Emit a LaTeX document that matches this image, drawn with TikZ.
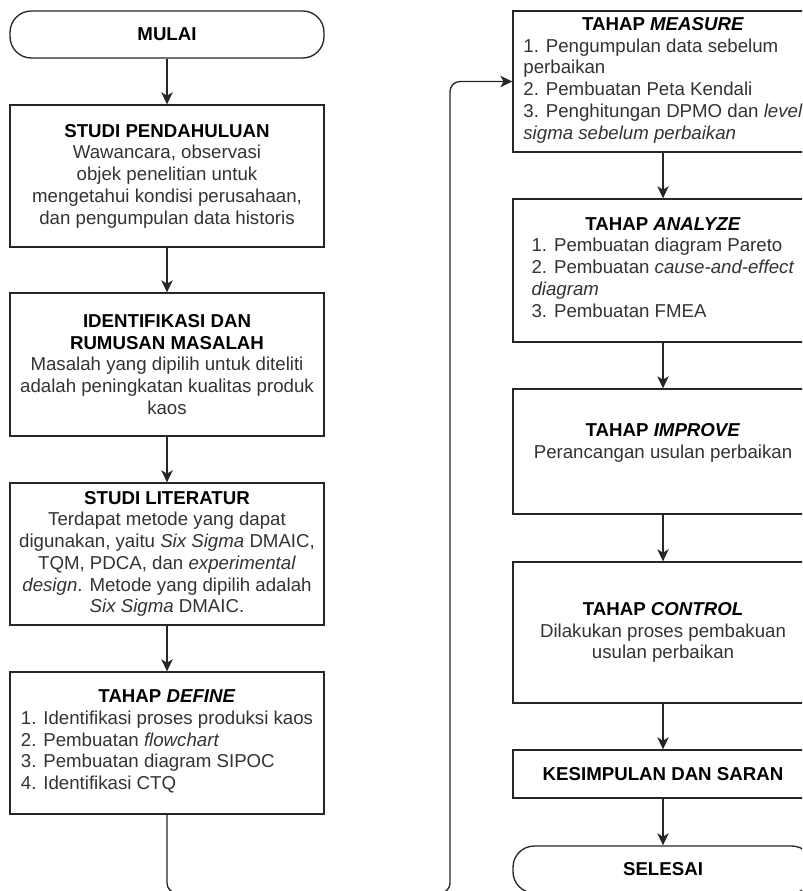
\documentclass[tikz,border=0pt]{standalone}
\usepackage{fontspec}
\setmainfont{Liberation Sans}
\usetikzlibrary{arrows.meta}
\tikzset{
	flowbox/.style={draw=black!85, line width=1pt, fill=white, align=center, inner sep=0pt,
		text=black!80, font=\fontsize{14}{16.3}\selectfont}
}
\tikzset{
	termbox/.style={flowbox, rounded corners=16pt},
	leftbox/.style={flowbox, minimum width=235.5pt},
	rightbox/.style={flowbox, minimum width=225pt},
	flowarrow/.style={draw=black!85, line width=1pt, -{Stealth[length=9pt,width=8.5pt,inset=2.5pt]}}
}
\newcommand{\ttl}[1]{{\color{black}\bfseries #1}}

\begin{document}
\begin{tikzpicture}[x=0.75pt, y=-0.75pt]
      \useasboundingbox (0,0) rectangle (802,891);
      \clip (0,0) rectangle (802,891);
      % left column
      \node[termbox, leftbox, minimum height=35.25pt] (mulai) at (167,34.5) {\ttl{MULAI}};
      \node[leftbox, minimum height=106.5pt] (studi) at (167,176)
        {\ttl{STUDI PENDAHULUAN}\\Wawancara, observasi\\objek penelitian untuk\\mengetahui kondisi perusahaan,\\dan pengumpulan data historis};
      \node[leftbox, minimum height=107.25pt] (rumusan) at (167,364.5)
        {\ttl{IDENTIFIKASI DAN}\\\ttl{RUMUSAN MASALAH}\\Masalah yang dipilih untuk diteliti\\adalah peningkatan kualitas produk\\kaos};
      \node[leftbox, minimum height=106.5pt] (literatur) at (167,554)
        {\ttl{STUDI LITERATUR}\\Terdapat metode yang dapat\\digunakan, yaitu \textit{Six Sigma} DMAIC,\\TQM, PDCA, dan \textit{experimental}\\\textit{design}. Metode yang dipilih adalah\\\textit{Six Sigma} DMAIC.};
      \node[leftbox, minimum height=106.5pt] (define) at (167,743)
        {\ttl{TAHAP \textit{DEFINE}}\\
         \begin{tabular}[t]{@{}l@{}}1. Identifikasi proses produksi kaos\\2. Pembuatan \textit{flowchart}\\3. Pembuatan diagram SIPOC\\4. Identifikasi CTQ\end{tabular}};
      % right column
      \node[rightbox, minimum height=105.75pt] (measure) at (663,81.5)
        {\ttl{TAHAP \textit{MEASURE}}\\
         \begin{tabular}[t]{@{}l@{}}1. Pengumpulan data sebelum\\perbaikan\\2. Pembuatan Peta Kendali\\3. Penghitungan DPMO dan \textit{level}\\\textit{sigma sebelum perbaikan}\end{tabular}};
      \node[rightbox, minimum height=107.25pt] (analyze) at (663,270.5)
        {\ttl{TAHAP \textit{ANALYZE}}\\
         \begin{tabular}[t]{@{}l@{}}1. Pembuatan diagram Pareto\\2. Pembuatan \textit{cause-and-effect}\\\textit{diagram}\\3. Pembuatan FMEA\end{tabular}};
      \node[rightbox, minimum height=93.75pt] (improve) at (663,451.5)
        {\ttl{TAHAP \textit{IMPROVE}}\\Perancangan usulan perbaikan\\\mbox{}};
      \node[rightbox, minimum height=105.75pt] (control) at (663,632.5)
        {\ttl{TAHAP \textit{CONTROL}}\\Dilakukan proses pembakuan\\usulan perbaikan};
      \node[rightbox, minimum height=36pt] (kesimpulan) at (663,774) {\ttl{KESIMPULAN DAN SARAN}};
      \node[termbox, rightbox, minimum height=35.25pt] (selesai) at (663,869.5) {\ttl{SELESAI}};
      % straight arrows
      \foreach \a/\b in {mulai/studi, studi/rumusan, rumusan/literatur, literatur/define,
                         measure/analyze, analyze/improve, improve/control,
                         control/kesimpulan, kesimpulan/selesai} {
        \draw[flowarrow] (\a.south) -- (\b.north);
      }
      % loop from define to measure
      \coordinate (turnbottom) at (450,893);
      \draw[flowarrow, rounded corners=7.5pt] (define.south) |- (turnbottom)
        -- (turnbottom |- measure.west) -- (measure.west);
    \end{tikzpicture}
\end{document}
